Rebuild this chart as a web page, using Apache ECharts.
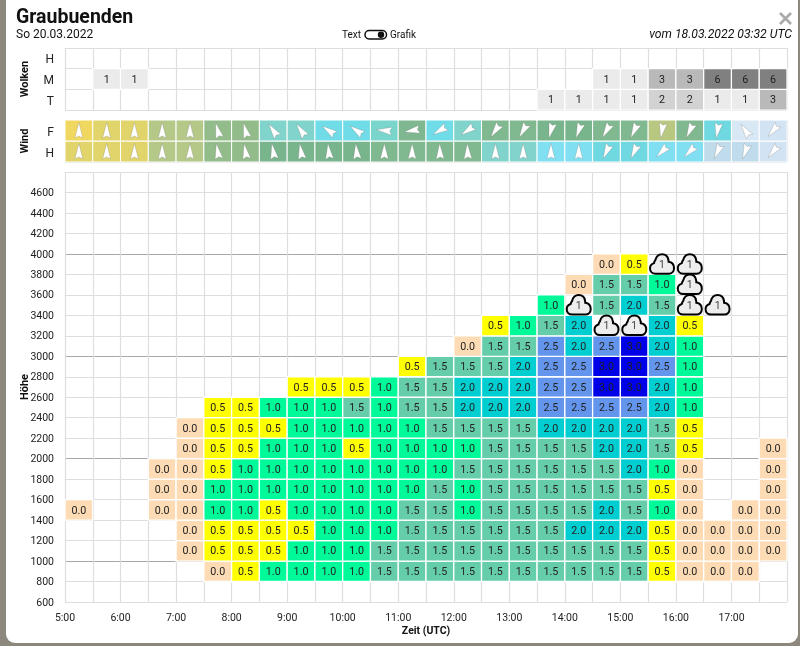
<!DOCTYPE html>
<html><head><meta charset="utf-8">
<style>html,body{margin:0;padding:0;background:#8d887e;overflow:hidden}#c{width:800px;height:646px}</style>
<script src="https://cdn.jsdelivr.net/npm/echarts@6/dist/echarts.min.js"></script>
</head><body><div id="c"></div>
<script>
const _ = null, C = 'C';
const xMin = 5, xMax = 18;
const altitudes = [800,1000,1200,1400,1600,1800,2000,2200,2400,2600,2800,3000,3200,3400,3600,3800];
const a800  = [_,_,_,_,_,0,.5,1,1,1,1,1.5,1.5,1.5,1.5,1.5,1.5,1.5,1.5,1.5,1.5,.5,0,0,0,_];
const a1000 = [_,_,_,_,0,.5,.5,.5,1,1,1,1.5,1.5,1.5,1.5,1.5,1.5,1.5,1.5,1.5,1.5,.5,0,0,0,0];
const a1200 = [_,_,_,_,0,.5,.5,.5,.5,1,1,1,1.5,1.5,1.5,1.5,1.5,1.5,2,2,2,.5,0,0,0,0];
const a1400 = [0,_,_,0,0,1,1,.5,1,1,1,1,1.5,1.5,1,1.5,1.5,1.5,1.5,2,1.5,1,0,_,0,0];
const a1600 = [_,_,_,0,0,1,1,1,1,1,1,1,1,1.5,1,1.5,1.5,1.5,1.5,1.5,1.5,.5,0,_,_,0];
const a1800 = [_,_,_,0,0,.5,1,1,1,1,1,1,1,1,1.5,1.5,1.5,1.5,1.5,1.5,2,1,0,_,_,0];
const a2000 = [_,_,_,_,0,.5,.5,1,1,1,.5,1,1,1,1,1.5,1.5,1.5,1.5,2,2,1.5,.5,_,_,0];
const a2200 = [_,_,_,_,0,.5,.5,.5,1,1,1,1,1,1.5,1.5,1.5,1.5,2,2,2,2,1.5,.5,_,_,_];
const a2400 = [_,_,_,_,_,.5,.5,1,1,1,1.5,1,1.5,1.5,2,2,2,2.5,2.5,2.5,2.5,2,1,_,_,_];
const a2600 = [_,_,_,_,_,_,_,_,.5,.5,.5,1,1.5,1.5,2,2,2,2.5,2.5,3,3,2,1,_,_,_];
const a2800 = [_,_,_,_,_,_,_,_,_,_,_,_,.5,1.5,1.5,1.5,2,2.5,2.5,3,3,2.5,1,_,_,_];
const a3000 = [_,_,_,_,_,_,_,_,_,_,_,_,_,_,0,1.5,1.5,2.5,2,2.5,3,2,1,_,_,_];
const a3200 = [_,_,_,_,_,_,_,_,_,_,_,_,_,_,_,.5,1,1.5,2,C,C,2,.5,_,_,_];
const a3400 = [_,_,_,_,_,_,_,_,_,_,_,_,_,_,_,_,_,1,C,1.5,2,1.5,C,C,_,_];
const a3600 = [_,_,_,_,_,_,_,_,_,_,_,_,_,_,_,_,_,_,0,1.5,1.5,1,C,_,_,_];
const a3800 = [_,_,_,_,_,_,_,_,_,_,_,_,_,_,_,_,_,_,_,0,.5,C,C,_,_,_];
const climbRows = [a800,a1000,a1200,a1400,a1600,a1800,a2000,a2200,a2400,a2600,a2800,a3000,a3200,a3400,a3600,a3800];
const climbColors = {'0':'#fddcb5','0.5':'#ffff00','1':'#00fa9a','1.5':'#66cdaa','2':'#00ced1','2.5':'#6495ed','3':'#0000e8'};

const cloudLevels = ['T','M','H'];
const cloudH = new Array(26).fill(_);
const cloudM = [_,1,1,_,_,_,_,_,_,_,_,_,_,_,_,_,_,_,_,1,1,3,3,6,6,6];
const cloudT = [_,_,_,_,_,_,_,_,_,_,_,_,_,_,_,_,_,1,1,1,1,2,2,1,1,3];
const cloudColors = {'1':'#ebebeb','2':'#d2d2d2','3':'#b9b9b9','6':'#808080'};

const windLevels = ['H','F'];
const windDirF = [0,0,0,0,0,-15,-15,-35,-35,-55,-55,-85,-100,-120,-125,215,210,195,200,210,205,190,205,190,-35,220];
const windDirH = [0,0,0,0,0,-10,-10,-10,-10,-6,-6,0,0,-2,-2,0,0,0,0,205,205,225,225,205,200,220];
const windColF = ['#f0d860','#e0d46a','#e0d46a','#b4c888','#b4c888','#92bc8a','#92bc8a','#80d4cc','#80d4cc','#70dce8','#70dce8','#7ad6cc','#7fb890','#70dce8','#80d4cc','#80b890','#80b890','#78b48c','#78b48c','#80b890','#80b890','#b8c880','#80b890','#70d8e0','#d8e8f4','#d2e4f4'];
const windColH = ['#e0d46a','#e0d46a','#e0d46a','#b4c888','#b4c888','#92bc8a','#92bc8a','#78b48c','#78b48c','#78b48c','#78b48c','#80b890','#80b890','#80b890','#80b890','#80d4cc','#80d4cc','#80e0f2','#80e0f2','#70d8e0','#70d8e0','#80e0f2','#80e0f2','#c0dcec','#c0dcec','#d2e4f4'];

const FONT = 'Roboto, sans-serif';
const TXT = '#222';
const cloudPath = 'M6,19 C2.8,19 1,16.8 1,14.2 C1,11.8 2.6,10 4.6,9.4 C4.8,8.6 5,7.6 5.8,6.8 C6.6,3.6 9,1.2 12,1.2 C15.2,1.2 17.4,3.4 17.8,6.4 C18,7 18,7.6 18,8.2 C21,8.6 23,11 23,14 C23,16.8 21,19 18.2,19 Z';

function colX(i){ return xMin + i * 0.5; }
const mainData = [], cloudMarks = [];
climbRows.forEach((row, r) => row.forEach((v, i) => {
  if (v === _) return;
  if (v === C) cloudMarks.push([colX(i), altitudes[r], 1]);
  else mainData.push([colX(i), altitudes[r], v]);
}));
const wolkenData = [];
[cloudT, cloudM, cloudH].forEach((row, r) => row.forEach((v, i) => { if (v !== _) wolkenData.push([colX(i), r, v]); }));
const windData = [];
[[windDirH, windColH],[windDirF, windColF]].forEach((p, r) => p[0].forEach((d, i) => windData.push([colX(i), r, d, i])));

function cellText(x, y, text){
  return {type:'text', x, y, z2:5, style:{text, fill:TXT, font:'10.7px '+FONT, align:'center', verticalAlign:'middle'}};
}
function renderMain(params, api){
  const x = api.value(0), y = api.value(1), v = api.value(2);
  const a = api.coord([x, y + 200]), b = api.coord([x + 0.5, y]);
  return {type:'group', children:[
    {type:'rect', shape:{x:a[0], y:a[1], width:b[0]-a[0], height:b[1]-a[1]}, style:{fill:climbColors[String(v)], stroke:'#fff', lineWidth:1.3}},
    cellText((a[0]+b[0])/2, (a[1]+b[1])/2 + 1, v.toFixed(1))
  ]};
}
function renderCloudMark(params, api){
  const x = api.value(0), y = api.value(1), v = api.value(2);
  const a = api.coord([x, y + 200]), b = api.coord([x + 0.5, y]);
  const cx = (a[0]+b[0])/2, cy = (a[1]+b[1])/2;
  return {type:'group', children:[
    {type:'path', shape:{pathData:cloudPath, x:cx-12, y:cy-10, width:24, height:19.5, layout:'cover'}, style:{fill:'#ededed', stroke:'#000', lineWidth:2}},
    {type:'text', x:cx, y:cy+1, z2:5, style:{text:String(v), fill:'#444', font:'10.5px '+FONT, align:'center', verticalAlign:'middle'}}
  ]};
}
function renderWolken(params, api){
  const x = api.value(0), r = api.value(1), v = api.value(2);
  const c0 = api.coord([x, r]), c1 = api.coord([x + 0.5, r]);
  const h = api.size([0, 1])[1];
  return {type:'group', children:[
    {type:'rect', shape:{x:c0[0], y:c0[1]-h/2, width:c1[0]-c0[0], height:h}, style:{fill:cloudColors[String(v)], stroke:'#fff', lineWidth:1.2}},
    cellText((c0[0]+c1[0])/2, c0[1] + 1, String(v))
  ]};
}
function renderWind(params, api){
  const x = api.value(0), r = api.value(1), d = api.value(2), i = api.value(3);
  const c0 = api.coord([x, r]), c1 = api.coord([x + 0.5, r]);
  const h = api.size([0, 1])[1];
  const fill = (r === 1 ? windColF : windColH)[i];
  return {type:'group', children:[
    {type:'rect', shape:{x:c0[0], y:c0[1]-h/2, width:c1[0]-c0[0], height:h}, style:{fill, stroke:'#fff', lineWidth:1}},
    {type:'polygon', x:(c0[0]+c1[0])/2, y:c0[1], rotation:-d*Math.PI/180,
     shape:{points:[[0,-8],[4,7.5],[0,5.4],[-4,7.5]]},
     style:{fill:'#fff', stroke:'rgba(110,110,110,0.4)', lineWidth:0.6}}
  ]};
}
const gridLine = '#dedede';
const darkAt = {1000:1, 2000:1, 3000:1, 4000:1};
const yTicks = []; for (let t = 600; t <= 4800; t += 200) yTicks.push(t);
const baseX = (gi, labels) => ({
  type:'value', gridIndex:gi, min:xMin, max:xMax, interval:0.5,
  axisLine:{show:false}, axisTick:{show:false},
  splitLine:{show:true, lineStyle:{color:gridLine, width:1.2}},
  axisLabel: labels ? {show:true, hideOverlap:false, margin:11, color:TXT, fontFamily:FONT, fontSize:10.5,
      formatter:v => (Number.isInteger(v) && v < xMax) ? v + ':00' : ''} : {show:false},
  name: labels ? 'Zeit (UTC)' : '', nameLocation:'middle', nameGap:24, nameMoveOverlap:false,
  nameTextStyle:{color:'#111', fontFamily:FONT, fontSize:10.5, fontWeight:'bold'}
});
const catY = (gi, data, name, gap) => ({
  type:'category', gridIndex:gi, data, boundaryGap:true,
  axisLine:{show:false}, axisTick:{show:false},
  axisLabel:{margin:11, formatter:v => '{a|' + v + '}',
    rich:{a:{color:TXT, fontFamily:FONT, fontSize:12, padding:[4,0,0,0]}}},
  splitLine:{show:true, interval:0, lineStyle:{color:gridLine, width:1.2}},
  name, nameLocation:'middle', nameRotate:90, nameGap:gap, nameMoveOverlap:false,
  nameTextStyle:{color:'#111', fontFamily:FONT, fontSize:11, fontWeight:'bold'}
});
const option = {
  animation:false,
  backgroundColor:'#8d887e',
  title:[
    {text:'Graubuenden', left:11, top:3, textStyle:{fontFamily:FONT, fontSize:19.5, fontWeight:'bold', color:'#111'}}
  ],
  grid:[
    {left:65, width:722, top:48, height:62},
    {left:65, width:722, top:120, height:42},
    {left:65, width:722, top:172, height:430}
  ],
  xAxis:[baseX(0,false), baseX(1,false), baseX(2,true)],
  yAxis:[
    catY(0, cloudLevels, 'Wolken', 34),
    catY(1, windLevels, 'Wind', 34),
    {type:'value', gridIndex:2, min:600, max:4800, interval:200,
     axisLine:{show:false}, axisTick:{show:false},
     axisLabel:{margin:11, formatter:v => v === 4800 ? '' : '{a|' + v + '}',
       rich:{a:{color:TXT, fontFamily:FONT, fontSize:10.5, padding:[2,0,0,0]}}},
     splitLine:{show:true, lineStyle:{width:1.2, color:yTicks.map(t => darkAt[t] ? '#a8a8a8' : gridLine)}},
     name:'Höhe', nameLocation:'middle', nameRotate:90, nameGap:34, nameMoveOverlap:false,
     nameTextStyle:{color:'#111', fontFamily:FONT, fontSize:11, fontWeight:'bold'}}
  ],
  series:[
    {type:'custom', name:'Wolken', xAxisIndex:0, yAxisIndex:0, data:wolkenData, renderItem:renderWolken, clip:false},
    {type:'custom', name:'Wind', xAxisIndex:1, yAxisIndex:1, data:windData, renderItem:renderWind, clip:false},
    {type:'custom', name:'Steigen', xAxisIndex:2, yAxisIndex:2, data:mainData, renderItem:renderMain, clip:false},
    {type:'custom', name:'Wolkenbasis', xAxisIndex:2, yAxisIndex:2, data:cloudMarks, renderItem:renderCloudMark, clip:false, z:4}
  ],
  graphic:[
    {type:'rect', z:-10, silent:true, shape:{x:6, y:-12, width:792, height:655, r:9}, style:{fill:'#fff'}},
    {type:'text', x:16, y:35, style:{text:'So 20.03.2022', fill:'#111', font:'12px '+FONT, verticalAlign:'middle'}},
    {type:'text', x:792, y:35, style:{text:'vom 18.03.2022 03:32 UTC', fill:'#111', font:'italic 12.2px '+FONT, align:'right', verticalAlign:'middle'}},
    {type:'text', x:342, y:35, style:{text:'Text', fill:'#111', font:'10px '+FONT, verticalAlign:'middle'}},
    {type:'text', x:390, y:35, style:{text:'Grafik', fill:'#111', font:'10px '+FONT, verticalAlign:'middle'}},
    {type:'rect', shape:{x:365, y:30.5, width:21.5, height:8.5, r:4.2}, style:{fill:'#fff', stroke:'#111', lineWidth:1.5}},
    {type:'circle', shape:{cx:381, cy:34.7, r:3.2}, style:{fill:'#111'}},
    {type:'line', shape:{x1:780, y1:13, x2:791, y2:24}, style:{stroke:'#aaa', lineWidth:2.6}},
    {type:'line', shape:{x1:791, y1:13, x2:780, y2:24}, style:{stroke:'#aaa', lineWidth:2.6}}
  ]
};
const chart = echarts.init(document.getElementById('c'), null, {renderer:'canvas', width:800, height:646});
chart.setOption(option);
</script></body></html>
